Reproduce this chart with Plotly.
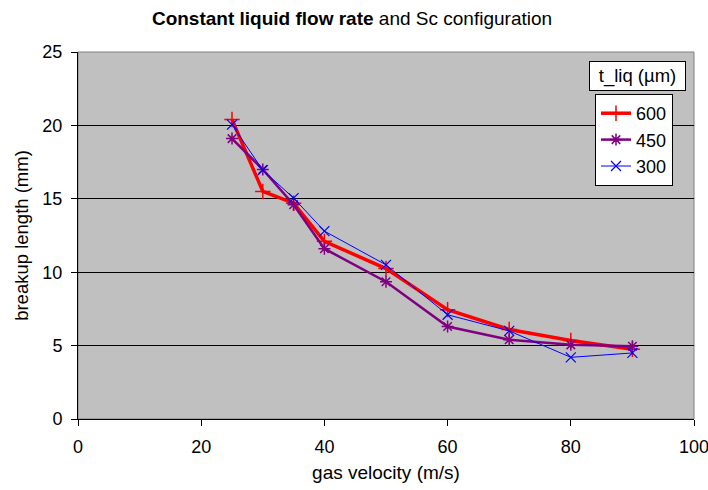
import plotly.graph_objects as go

gas_velocity = [25, 30, 35, 40, 50, 60, 70, 80, 90]
t600 = [20.4, 15.5, 14.7, 12.1, 10.25, 7.45, 6.1, 5.35, 4.75]
t450 = [19.1, 17.0, 14.6, 11.6, 9.35, 6.3, 5.4, 5.05, 4.95]
t300 = [20.05, 16.95, 15.05, 12.8, 10.5, 7.1, 6.0, 4.2, 4.5]
series_names = ["600", "450", "300"]
x_ticks = [0, 20, 40, 60, 80, 100]
y_ticks = [0, 5, 10, 15, 20, 25]

FONT = "Liberation Sans, Arial, sans-serif"

fig = go.Figure()
fig.add_trace(go.Scatter(x=gas_velocity, y=t600, name=series_names[0], mode="lines+markers",
                         line=dict(color="#ff0000", width=3.5),
                         marker=dict(symbol="cross-thin-open", size=11, color="#ff0000",
                                     line=dict(color="#ff0000", width=1.5))))
fig.add_trace(go.Scatter(x=gas_velocity, y=t450, name=series_names[1], mode="lines+markers",
                         line=dict(color="#800080", width=2.5),
                         marker=dict(symbol="asterisk-open", size=10, color="#800080",
                                     line=dict(color="#800080", width=1.5))))
fig.add_trace(go.Scatter(x=gas_velocity, y=t300, name=series_names[2], mode="lines+markers",
                         line=dict(color="#0000ff", width=1),
                         marker=dict(symbol="x-thin-open", size=10, color="#0000ff",
                                     line=dict(color="#0000ff", width=1.2))))

L, R, T, B = 78, 14, 52, 71
W, H = 708, 490
pw = W - L - R
ph = H - T - B

fig.update_layout(
    width=W, height=H,
    margin=dict(l=L, r=R, t=T, b=B, autoexpand=False),
    paper_bgcolor="white",
    plot_bgcolor="#c0c0c0",
    font=dict(family=FONT, size=18, color="black"),
    title=dict(text="<b>Constant liquid flow rate</b> and Sc configuration",
               x=352 / W, xanchor="center", y=1 - 18 / H, yanchor="middle",
               font=dict(family=FONT, size=19, color="black")),
    xaxis=dict(range=[0, 100], tickvals=x_ticks, showgrid=False, zeroline=False,
               showline=True, linecolor="black", linewidth=1,
               ticks="outside", ticklen=6, tickcolor="black",
               tickfont=dict(size=18), ticklabeloverflow="allow", ticklabelstandoff=5,
               automargin=False,
               title=dict(text="gas velocity (m/s)", font=dict(size=19), standoff=10)),
    yaxis=dict(range=[0, 25], tickvals=y_ticks, showgrid=True, gridcolor="black", gridwidth=1,
               zeroline=False, showline=True, linecolor="black", linewidth=1,
               ticks="outside", ticklen=6, tickcolor="black",
               tickfont=dict(size=18), ticklabelstandoff=5, automargin=False,
               title=dict(text="breakup length (mm)", font=dict(size=18.5), standoff=8)),
    showlegend=True,
)

lx = (595 - L) / pw
ly = (H - B - 94) / ph
fig.update_layout(legend=dict(x=lx, y=ly, xanchor="left", yanchor="top",
                              bgcolor="white", bordercolor="black", borderwidth=1,
                              font=dict(size=18), itemwidth=30,
                              tracegroupgap=0))

# plot area border (top/right gray)
fig.add_shape(type="rect", xref="paper", yref="paper", x0=0, y0=0, x1=1, y1=1,
              line=dict(color="#808080", width=1), layer="below")

# legend title box
fig.add_annotation(text="t_liq (µm)", xref="paper", yref="paper",
                   x=((589 + 686) / 2 - L) / pw, y=(H - B - 76) / ph,
                   xanchor="center", yanchor="middle", showarrow=False,
                   font=dict(size=18.5), bgcolor="white", bordercolor="black",
                   borderwidth=1, width=93, height=26)

fig.write_html("out.html")
